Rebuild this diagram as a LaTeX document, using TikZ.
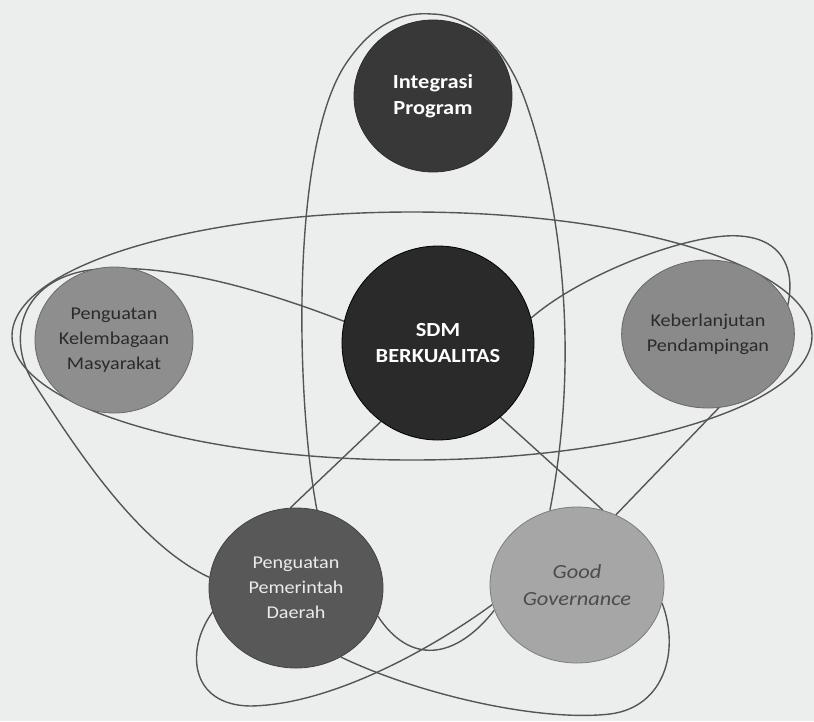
\documentclass[tikz,border=0pt]{standalone}
\usepackage{fontspec}
\newfontfamily\dfont[FakeStretch=1.12]{Carlito}
\usetikzlibrary{shapes.geometric}
\pgfdeclarelayer{back}
\pgfsetlayers{back,main}
\definecolor{paper}{HTML}{ECEEEE}
\definecolor{linkgray}{HTML}{555555}
\definecolor{cIP}{HTML}{383838}
\definecolor{cSDM}{HTML}{2A2A2A}
\definecolor{cPKM}{HTML}{8E8E8E}
\definecolor{cKP}{HTML}{8A8A8A}
\definecolor{cPPD}{HTML}{585858}
\definecolor{cGG}{HTML}{A6A6A6}
\definecolor{darktext}{HTML}{2B2B2B}
\newcommand\ringfont{\dfont\fontsize{18}{25}\selectfont}
\newcommand\corefont{\dfont\bfseries\fontsize{20}{26}\selectfont}
\begin{document}
\begin{tikzpicture}[x=1pt,y=-1pt,
  disc/.style={ellipse, inner sep=0pt, align=center, line width=0.8pt},
  link/.style={draw=linkgray, line width=1.4pt}]
  \useasboundingbox (0,0) rectangle (814,721);

  % the six pillars
  \node[disc, fill=cIP, draw=cIP!80!black, minimum width=158pt, minimum height=152pt,
        text=white, font=\corefont] (ip) at (433,96) {Integrasi\\Program};
  \node[disc, fill=cSDM, draw=black, minimum width=192pt, minimum height=194pt,
        text=white, font=\corefont] (sdm) at (438,343) {SDM\\BERKUALITAS};
  \node[disc, fill=cPKM, draw=cPKM!75!black, minimum width=158pt, minimum height=146pt,
        text=darktext, font=\ringfont] (pkm) at (114,340) {Penguatan\\Kelembagaan\\Masyarakat};
  \node[disc, fill=cKP, draw=cKP!75!black, minimum width=172pt, minimum height=148pt,
        text=darktext, font=\ringfont] (kp) at (708,334) {Keberlanjutan\\Pendampingan};
  \node[disc, fill=cPPD, draw=cPPD!75!black, minimum width=174pt, minimum height=160pt,
        text=white!92!black, font=\ringfont] (ppd) at (296,588) {Penguatan\\Pemerintah\\Daerah};
  \node[disc, fill=cGG, draw=cGG!75!black, minimum width=174pt, minimum height=156pt,
        text=black!70, font=\dfont\itshape\fontsize{20}{27}\selectfont] (gg) at (577,585) {Good\\Governance};

  % paper and connecting loops, drawn behind the pillars
  \begin{pgfonlayer}{back}
    \fill[paper] (0,0) rectangle (814,721);
    \draw[link] (ppd.75) .. controls (296,400) and (290,150) .. (345,65)
      .. controls (375,20) and (405,12) .. (432,14)
      .. controls (470,15) and (505,45) .. (525,100)
      .. controls (552,175) and (585,330) .. (gg.110);
    \draw[link] (412,336) ellipse [x radius=400, y radius=124];
    \draw[link] (sdm.167) .. controls (250,285) and (160,262) .. (90,270)
      .. controls (20,280) and (5,340) .. (35,385)
      .. controls (80,455) and (140,545) .. (ppd.173);
    \draw[link] (sdm.15) .. controls (580,275) and (690,232) .. (740,236)
      .. controls (800,240) and (805,300) .. (760,365) -- (gg.61);
    \draw[link] (sdm.234) -- (ppd.94);
    \draw[link] (sdm.-50) -- (gg.71);
    \draw[link] (ppd.196) .. controls (185,650) and (190,705) .. (250,706)
      .. controls (330,705) and (430,650) .. (gg.193);
    \draw[link] (ppd.-19) .. controls (410,665) and (455,660) .. (gg.197);
    \draw[link] (ppd.-57) .. controls (420,695) and (540,722) .. (610,714)
      .. controls (665,707) and (680,650) .. (gg.-12);
  \end{pgfonlayer}
\end{tikzpicture}
\end{document}
